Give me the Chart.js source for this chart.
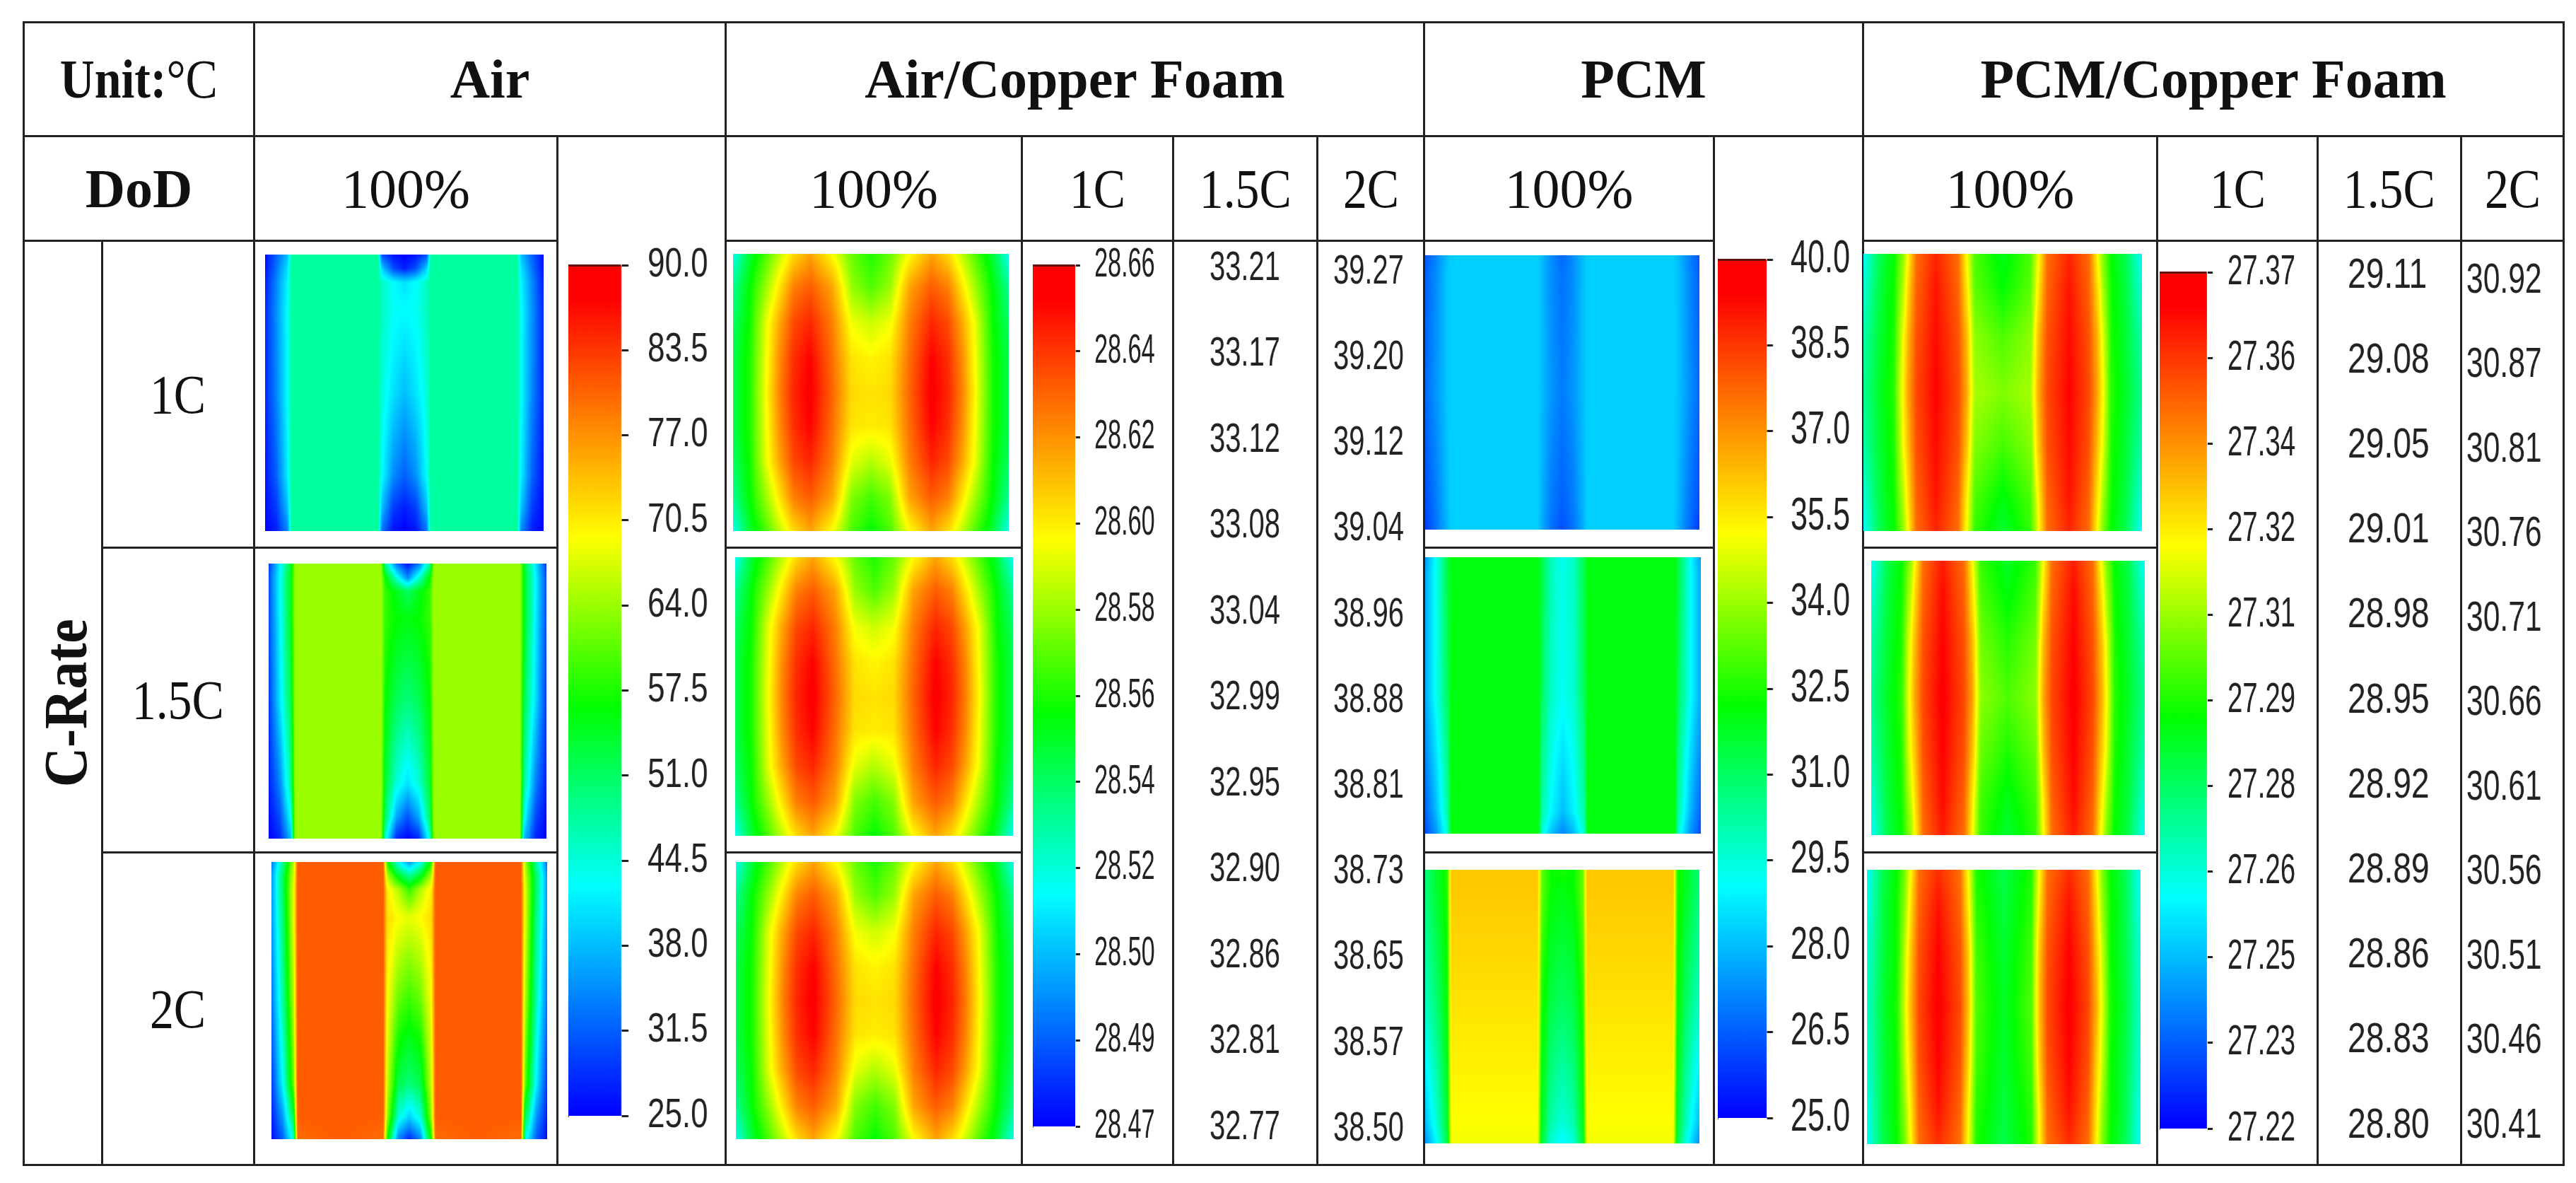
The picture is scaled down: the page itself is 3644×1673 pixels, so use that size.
<!DOCTYPE html>
<html>
<head>
  <title>Battery temperature at 100% DoD</title>
  <meta charset="utf-8">
  <script src="https://cdn.jsdelivr.net/npm/chart.js@4"></script>
  <style type="text/css">
    html, body { margin: 0; background: #fff; }
    #page { position: relative; width: 3644px; height: 1673px; overflow: hidden; }
    #grid {
      position: absolute; left: 32px; top: 30px; width: 3593px; height: 1616px;
      border-collapse: collapse; table-layout: fixed;
      font-family: "Liberation Serif", serif; font-size: 78px; color: #111;
    }
    #grid td { border: 3px solid #222; padding: 0; text-align: center; vertical-align: middle; }
    #grid b { font-weight: bold; }
    .sq { display: inline-block; transform: scaleX(0.87); white-space: nowrap; }
    .rot { display: inline-block; writing-mode: vertical-rl; transform: translate(4px, 10px) scaleX(1.12) rotate(180deg); }
    canvas { position: absolute; }
  </style>
</head>
<body>
  <div id="page">
    <table id="grid">
      <colgroup>
        <col style="width:111px"><col style="width:215px"><col style="width:429px"><col style="width:238px">
        <col style="width:419px"><col style="width:214px"><col style="width:204px"><col style="width:151px">
        <col style="width:410px"><col style="width:211px"><col style="width:416px"><col style="width:227px">
        <col style="width:203px"><col style="width:145px">
      </colgroup>
      <tr style="height:161px">
        <td colspan="2"><span class="sq"><b>Unit:</b>°C</span></td>
        <td colspan="2"><b>Air</b></td>
        <td colspan="4"><b>Air/Copper Foam</b></td>
        <td colspan="2"><b>PCM</b></td>
        <td colspan="4"><b>PCM/Copper Foam</b></td>
      </tr>
      <tr style="height:148px">
        <td colspan="2"><b>DoD</b></td>
        <td>100%</td>
        <td rowspan="4"></td>
        <td>100%</td>
        <td><span class="sq">1C</span></td><td><span class="sq">1.5C</span></td><td><span class="sq">2C</span></td>
        <td>100%</td>
        <td rowspan="4"></td>
        <td>100%</td>
        <td><span class="sq">1C</span></td><td><span class="sq">1.5C</span></td><td><span class="sq">2C</span></td>
      </tr>
      <tr style="height:434px">
        <td rowspan="3"><b class="rot">C-Rate</b></td>
        <td><span class="sq">1C</span></td>
        <td></td><td></td>
        <td rowspan="3"></td><td rowspan="3"></td><td rowspan="3"></td>
        <td></td><td></td>
        <td rowspan="3"></td><td rowspan="3"></td><td rowspan="3"></td>
      </tr>
      <tr style="height:431px">
        <td><span class="sq">1.5C</span></td>
        <td></td><td></td><td></td><td></td>
      </tr>
      <tr style="height:442px">
        <td><span class="sq">2C</span></td>
        <td></td><td></td><td></td><td></td>
      </tr>
    </table>
  </div>

  <script>
    // Tick labels of the colour bars and of the value columns, low to high
    var airTicks = ['25.0','31.5','38.0','44.5','51.0','57.5','64.0','70.5','77.0','83.5','90.0'];
    var airCu1C = ['28.47','28.49','28.50','28.52','28.54','28.56','28.58','28.60','28.62','28.64','28.66'];
    var airCu15C = ['32.77','32.81','32.86','32.90','32.95','32.99','33.04','33.08','33.12','33.17','33.21'];
    var airCu2C = ['38.50','38.57','38.65','38.73','38.81','38.88','38.96','39.04','39.12','39.20','39.27'];
    var pcmTicks = ['25.0','26.5','28.0','29.5','31.0','32.5','34.0','35.5','37.0','38.5','40.0'];
    var pcmCu1C = ['27.22','27.23','27.25','27.26','27.28','27.29','27.31','27.32','27.34','27.36','27.37'];
    var pcmCu15C = ['28.80','28.83','28.86','28.89','28.92','28.95','28.98','29.01','29.05','29.08','29.11'];
    var pcmCu2C = ['30.41','30.46','30.51','30.56','30.61','30.66','30.71','30.76','30.81','30.87','30.92'];

    // Colour bar: position in % of the bar, then r, g, b
    var rainbow = [[0,0,0,255],[27,0,255,255],[48,0,255,0],[68,255,255,0],[96,255,0,0],[100,255,0,0]];

    // Nodes are % of the panel width (X) and height (Y).
    var airX = [0,4,8,9.5,25,40.5,42,46,50,54,58,59.5,75,90.5,92,96,100];
    var airY = [0,5,10,20,50,80,92,100];
    var air1C = [
      [1,10,20,35,35,35,8,2,0,2,8,35,35,35,20,10,1],
      [2,12,24,35,35,35,22,8,3,8,22,35,35,35,24,12,2],
      [3,14,26,35,35,35,32,27,24,27,32,35,35,35,26,14,3],
      [4,15,27,35,35,35,32,28,27,28,32,35,35,35,27,15,4],
      [4,14,27,35,35,35,30,24,20,24,30,35,35,35,27,14,4],
      [2,10,25,35,35,35,27,15,10,15,27,35,35,35,25,10,2],
      [1,6,20,35,35,35,20,6,3,6,20,35,35,35,20,6,1],
      [0,3,14,35,35,35,12,2,0,2,12,35,35,35,14,3,0]
    ];
    var air15C = [
      [6,25,44,60,60,60,35,12,2,12,35,60,60,60,44,25,6],
      [8,27,46,60,60,60,48,30,14,30,48,60,60,60,46,27,8],
      [8,27,46,60,60,60,52,46,40,46,52,60,60,60,46,27,8],
      [8,26,46,60,60,60,52,48,47,48,52,60,60,60,46,26,8],
      [6,24,42,60,60,60,48,41,38,41,48,60,60,60,42,24,6],
      [3,14,36,60,60,60,44,30,24,30,44,60,60,60,36,14,3],
      [1,8,28,60,60,60,40,18,9,18,40,60,60,60,28,8,1],
      [0,4,20,60,60,60,30,4,0,4,30,60,60,60,20,4,0]
    ];
    var air2C = [
      [12,35,62,86,86,86,50,28,16,28,50,86,86,86,62,35,12],
      [16,40,64,86,86,86,62,45,36,45,62,86,86,86,64,40,16],
      [16,40,66,86,86,86,70,62,52,62,70,86,86,86,66,40,16],
      [16,38,66,86,86,86,72,68,66,68,72,86,86,86,66,38,16],
      [12,34,62,86,86,86,68,56,52,56,68,86,86,86,62,34,12],
      [6,26,56,86,86,86,64,42,38,42,64,86,86,86,56,26,6],
      [3,16,42,86,86,86,60,30,22,30,60,86,86,86,42,16,3],
      [1,10,30,84,86,84,50,14,4,14,50,84,86,84,30,10,1]
    ];

    // the three air/copper foam panels look the same on their own scales
    var airCuX = [0,6,12,17,22,28,36,43,50,57,64,72,78,83,88,94,100];
    var airCuY = [0,12,25,38,50,62,75,88,100];
    var airCu = [
      [28,44,54,63,72,78,68,56,50,56,68,78,72,63,54,44,28],
      [36,48,60,71,82,86,78,60,54,60,78,86,82,71,60,48,36],
      [40,49,66,78,88,92,82,67,64,67,82,92,88,78,66,49,40],
      [42,50,67,81,91,96,84,71,69,71,84,96,91,81,67,50,42],
      [42,50,68,82,92,97,85,72,71,72,85,97,92,82,68,50,42],
      [42,50,67,81,91,96,84,71,70,71,84,96,91,81,67,50,42],
      [40,49,66,78,88,92,82,66,62,66,82,92,88,78,66,49,40],
      [36,48,60,71,82,86,78,58,53,58,78,86,82,71,60,48,36],
      [28,44,54,63,72,78,68,54,48,54,68,78,72,63,54,44,28]
    ];

    var pcmX = [0,4,8,9.5,25,41,42.5,46,50,54,57.5,59,75,90.5,92,96,100];
    var pcmY = [0,6,50,92,100];
    var pcm1C = [
      [9,14,20,22,22,22,20,15,11,15,20,22,22,22,20,14,9],
      [10,15,21,22,22,22,20,15,12,15,20,22,22,22,21,15,10],
      [11,16,21,22,22,22,20,16,13,16,20,22,22,22,21,16,11],
      [8,13,20,22,22,22,19,13,10,13,19,22,22,22,20,13,8],
      [6,12,19,22,22,22,18,12,8,12,18,22,22,22,19,12,6]
    ];
    var pcm15C = [
      [16,28,42,47,47,47,42,32,28,32,42,47,47,47,42,28,16],
      [18,28,42,47,47,47,42,32,29,32,42,47,47,47,42,28,18],
      [18,28,40,47,47,47,40,31,28,31,40,47,47,47,40,28,18],
      [10,20,34,47,47,47,34,26,20,26,34,47,47,47,34,20,10],
      [8,16,30,47,47,47,30,20,14,20,30,47,47,47,30,16,8]
    ];
    var pcm2C = [
      [38,44,50,74,74,74,56,48,50,48,56,74,74,74,50,44,38],
      [38,44,50,74,74,74,56,48,47,48,56,74,74,74,50,44,38],
      [32,38,48,71,71,71,50,42,40,42,50,71,71,71,48,38,32],
      [20,30,44,68,68,68,46,34,30,34,46,68,68,68,44,30,20],
      [15,26,42,67,67,67,44,30,26,30,44,67,67,67,42,26,15]
    ];

    var pcmCuX = [0,6,11,14,16,19,26,34,37,40,50,60,63,66,74,81,84,86,89,94,100];
    var pcmCuY = [0,12,30,50,70,88,100];
    var pcmCu1 = [
      [27,42,48,58,68,84,92,84,68,54,46,54,68,84,92,84,68,58,48,42,27],
      [30,43,49,61,72,85,94,85,71,55,48,55,71,85,94,85,72,61,49,43,30],
      [34,44,50,66,76,87,95,87,76,59,54,59,76,87,95,87,76,66,50,44,34],
      [36,45,51,68,78,88,96,88,78,61,58,61,78,88,96,88,78,68,51,45,36],
      [34,44,50,66,75,87,95,87,75,58,53,58,75,87,95,87,75,66,50,44,34],
      [30,43,49,61,71,85,94,85,70,54,47,54,70,85,94,85,71,61,49,43,30],
      [27,42,48,58,68,84,92,84,68,52,44,52,68,84,92,84,68,58,48,42,27]
    ];
    var pcmCu15 = [
      [27,42,48,58,68,84,93,84,68,52,45,52,68,84,93,84,68,58,48,42,27],
      [30,43,49,61,72,85,95,85,71,54,47,54,71,85,95,85,72,61,49,43,30],
      [34,44,50,66,76,87,96,87,76,57,51,57,76,87,96,87,76,66,50,44,34],
      [36,45,51,68,78,88,97,88,78,59,54,59,78,88,97,88,78,68,51,45,36],
      [34,44,50,66,75,87,96,87,75,56,50,56,75,87,96,87,75,66,50,44,34],
      [30,43,49,61,71,85,95,85,70,53,46,53,70,85,95,85,71,61,49,43,30],
      [27,42,48,58,68,84,93,84,68,52,44,52,68,84,93,84,68,58,48,42,27]
    ];
    var pcmCu2 = [
      [27,42,48,58,68,84,91,84,68,50,42,50,68,84,91,84,68,58,48,42,27],
      [28,43,49,60,71,85,94,85,70,51,43,51,70,85,94,85,71,60,49,43,28],
      [30,43,49,64,74,87,96,87,74,53,44,53,74,87,96,87,74,64,49,43,30],
      [31,44,50,66,76,88,97,88,75,54,45,54,75,88,97,88,76,66,50,44,31],
      [30,43,49,64,73,87,96,87,73,53,44,53,73,87,96,87,73,64,49,43,30],
      [28,43,49,60,70,85,94,85,69,51,43,51,69,85,94,85,70,60,49,43,28],
      [27,42,48,58,68,84,91,84,68,50,42,50,68,84,91,84,68,58,48,42,27]
    ];

    // Layout: left, top, right, bottom of every panel in page pixels
    var heatPanels = [
      {box: [375,360,769,751],    cols: airX,   rows: airY,   levels: air1C},
      {box: [380,797,773,1186],   cols: airX,   rows: airY,   levels: air15C},
      {box: [384,1219,774,1611],  cols: airX,   rows: airY,   levels: air2C},
      {box: [1037,359,1427,751],  cols: airCuX, rows: airCuY, levels: airCu},
      {box: [1040,788,1433,1182], cols: airCuX, rows: airCuY, levels: airCu},
      {box: [1041,1219,1434,1611],cols: airCuX, rows: airCuY, levels: airCu},
      {box: [2016,361,2404,749],  cols: pcmX,   rows: pcmY,   levels: pcm1C},
      {box: [2016,788,2406,1179], cols: pcmX,   rows: pcmY,   levels: pcm15C},
      {box: [2016,1230,2404,1617],cols: pcmX,   rows: pcmY,   levels: pcm2C},
      {box: [2636,359,3030,751],  cols: pcmCuX, rows: pcmCuY, levels: pcmCu1},
      {box: [2647,793,3034,1181], cols: pcmCuX, rows: pcmCuY, levels: pcmCu15},
      {box: [2641,1230,3028,1618],cols: pcmCuX, rows: pcmCuY, levels: pcmCu2}
    ];

    // left edge, tick range, bar width, tick length, label start, font size, squeeze, labels
    var scaleColumns = [
      {left: 804,  top: 375, bottom: 1578, bar: 75, tick: 10, label: 916,  size: 57, squeeze: 0.77, labels: airTicks},
      {left: 1461, top: 375, bottom: 1593, bar: 60, tick: 7,  label: 1548, size: 57, squeeze: 0.60, labels: airCu1C},
      {left: 1700, top: 380, bottom: 1595, bar: 0,  tick: 0,  label: 1710, size: 57, squeeze: 0.70, labels: airCu15C},
      {left: 1875, top: 385, bottom: 1597, bar: 0,  tick: 0,  label: 1885, size: 57, squeeze: 0.70, labels: airCu2C},
      {left: 2430, top: 367, bottom: 1581, bar: 69, tick: 9,  label: 2533, size: 64, squeeze: 0.675, labels: pcmTicks},
      {left: 3055, top: 385, bottom: 1596, bar: 67, tick: 8,  label: 3151, size: 60, squeeze: 0.64, labels: pcmCu1C},
      {left: 3310, top: 390, bottom: 1592, bar: 0,  tick: 0,  label: 3320, size: 60, squeeze: 0.77, labels: pcmCu15C},
      {left: 3484, top: 397, bottom: 1592, bar: 0,  tick: 0,  label: 3488, size: 60, squeeze: 0.71, labels: pcmCu2C}
    ];

    // helpers

    function colour_at(level) {
      for (var i = 1; i < rainbow.length; i++) {
        if (level <= rainbow[i][0]) {
          var a = rainbow[i - 1], b = rainbow[i], f = (level - a[0]) / (b[0] - a[0]);
          return [a[1] + (b[1] - a[1]) * f, a[2] + (b[2] - a[2]) * f, a[3] + (b[3] - a[3]) * f];
        }
      }
      return rainbow[rainbow.length - 1].slice(1);
    }

    function span_of(nodes, v) {
      var i = 0;
      while (i < nodes.length - 2 && v > nodes[i + 1]) i++;
      return {i: i, f: Math.min(1, Math.max(0, (v - nodes[i]) / (nodes[i + 1] - nodes[i])))};
    }

    function add_canvas(left, top, width, height) {
      var canvas = document.createElement('canvas');
      canvas.width = width;
      canvas.height = height;
      canvas.style.left = left + 'px';
      canvas.style.top = top + 'px';
      document.getElementById('page').appendChild(canvas);
      return canvas;
    }

    // shades the chart area between the dataset's nodes, the way a CFD plot does
    var heatShade = {
      id: 'heatShade',
      beforeDatasetsDraw: function(chart) {
        var set = chart.data.datasets[0], area = chart.chartArea;
        var w = Math.round(area.right - area.left), h = Math.round(area.bottom - area.top);
        var img = chart.ctx.createImageData(w, h);
        for (var py = 0; py < h; py++) {
          var sy = span_of(set.rows, chart.scales.y.getValueForPixel(area.top + py + 0.5));
          var r0 = set.levels[sy.i], r1 = set.levels[sy.i + 1];
          for (var px = 0; px < w; px++) {
            var sx = span_of(set.cols, chart.scales.x.getValueForPixel(area.left + px + 0.5));
            var top = r0[sx.i] + (r0[sx.i + 1] - r0[sx.i]) * sx.f;
            var bot = r1[sx.i] + (r1[sx.i + 1] - r1[sx.i]) * sx.f;
            var c = colour_at(top + (bot - top) * sy.f), o = (py * w + px) * 4;
            img.data[o] = c[0]; img.data[o + 1] = c[1]; img.data[o + 2] = c[2]; img.data[o + 3] = 255;
          }
        }
        chart.ctx.putImageData(img, area.left, area.top);
      }
    };

    function draw_panel(panel) {
      var b = panel.box, points = [];
      panel.rows.forEach(function(y, j) {
        panel.cols.forEach(function(x, i) {
          points.push({x: x, y: y, level: panel.levels[j][i]});
        });
      });
      new Chart(add_canvas(b[0], b[1], b[2] - b[0], b[3] - b[1]), {
        type: 'scatter',
        data: {datasets: [{data: points, cols: panel.cols, rows: panel.rows, levels: panel.levels, pointRadius: 0}]},
        plugins: [heatShade],
        options: {
          responsive: false, animation: false, devicePixelRatio: 1,
          plugins: {legend: {display: false}, tooltip: {enabled: false}},
          scales: {
            x: {type: 'linear', display: false, min: 0, max: 100},
            y: {type: 'linear', display: false, min: 0, max: 100, reverse: true}
          }
        }
      });
    }

    // one colour bar with its labels, or a value column when it has no bar
    function draw_column(col) {
      var pad = 50, s = col.squeeze;
      var lo = parseFloat(col.labels[0]), hi = parseFloat(col.labels[col.labels.length - 1]);
      var width = Math.ceil((col.label - col.left) / s + col.size * 3);
      var barWidth = Math.max(col.bar, 1) / s;
      var canvas = add_canvas(col.left, col.top - pad, width, col.bottom - col.top + 2 * pad);
      canvas.style.transformOrigin = '0 0';
      canvas.style.transform = 'scaleX(' + s + ')';

      new Chart(canvas, {
        type: 'bar',
        data: {
          labels: [''],
          datasets: col.bar ? [{
            data: [[lo, hi]],
            barPercentage: 1,
            categoryPercentage: 1,
            borderWidth: 0,
            backgroundColor: function(ctx) {
              var chart = ctx.chart, y = chart.scales.y;
              if (!chart.chartArea || !y) return '#00f';
              var g = chart.ctx.createLinearGradient(0, y.getPixelForValue(lo), 0, y.getPixelForValue(hi));
              rainbow.forEach(function(stop) {
                g.addColorStop(stop[0] / 100, 'rgb(' + stop[1] + ',' + stop[2] + ',' + stop[3] + ')');
              });
              return g;
            }
          }] : []
        },
        options: {
          responsive: false, animation: false, devicePixelRatio: 1,
          layout: {padding: {top: pad, bottom: pad, left: 0, right: 0}},
          plugins: {legend: {display: false}, tooltip: {enabled: false}},
          scales: {
            x: {display: false},
            y: {
              position: 'right',
              min: lo,
              max: hi,
              afterFit: function(scale) {
                scale.width = width - barWidth;
                scale.paddingTop = 0;
                scale.paddingBottom = 0;
              },
              border: {display: col.bar > 0, color: '#222', width: 2},
              grid: {
                z: 1,
                drawTicks: col.bar > 0,
                tickLength: col.tick / s,
                tickColor: '#222',
                lineWidth: 3,
                color: function(ctx) {
                  return col.bar && ctx.tick && ctx.tick.value === hi ? '#611' : 'transparent';
                }
              },
              ticks: {
                count: col.labels.length,
                autoSkip: false,
                crossAlign: 'near',
                padding: (col.label - col.left - col.bar - col.tick) / s,
                color: '#222',
                font: {family: '"Liberation Sans"', size: col.size},
                callback: function(v, i) { return col.labels[i]; }
              }
            }
          }
        }
      });
    }

    heatPanels.forEach(draw_panel);
    scaleColumns.forEach(draw_column);
  </script>
</body>
</html>
